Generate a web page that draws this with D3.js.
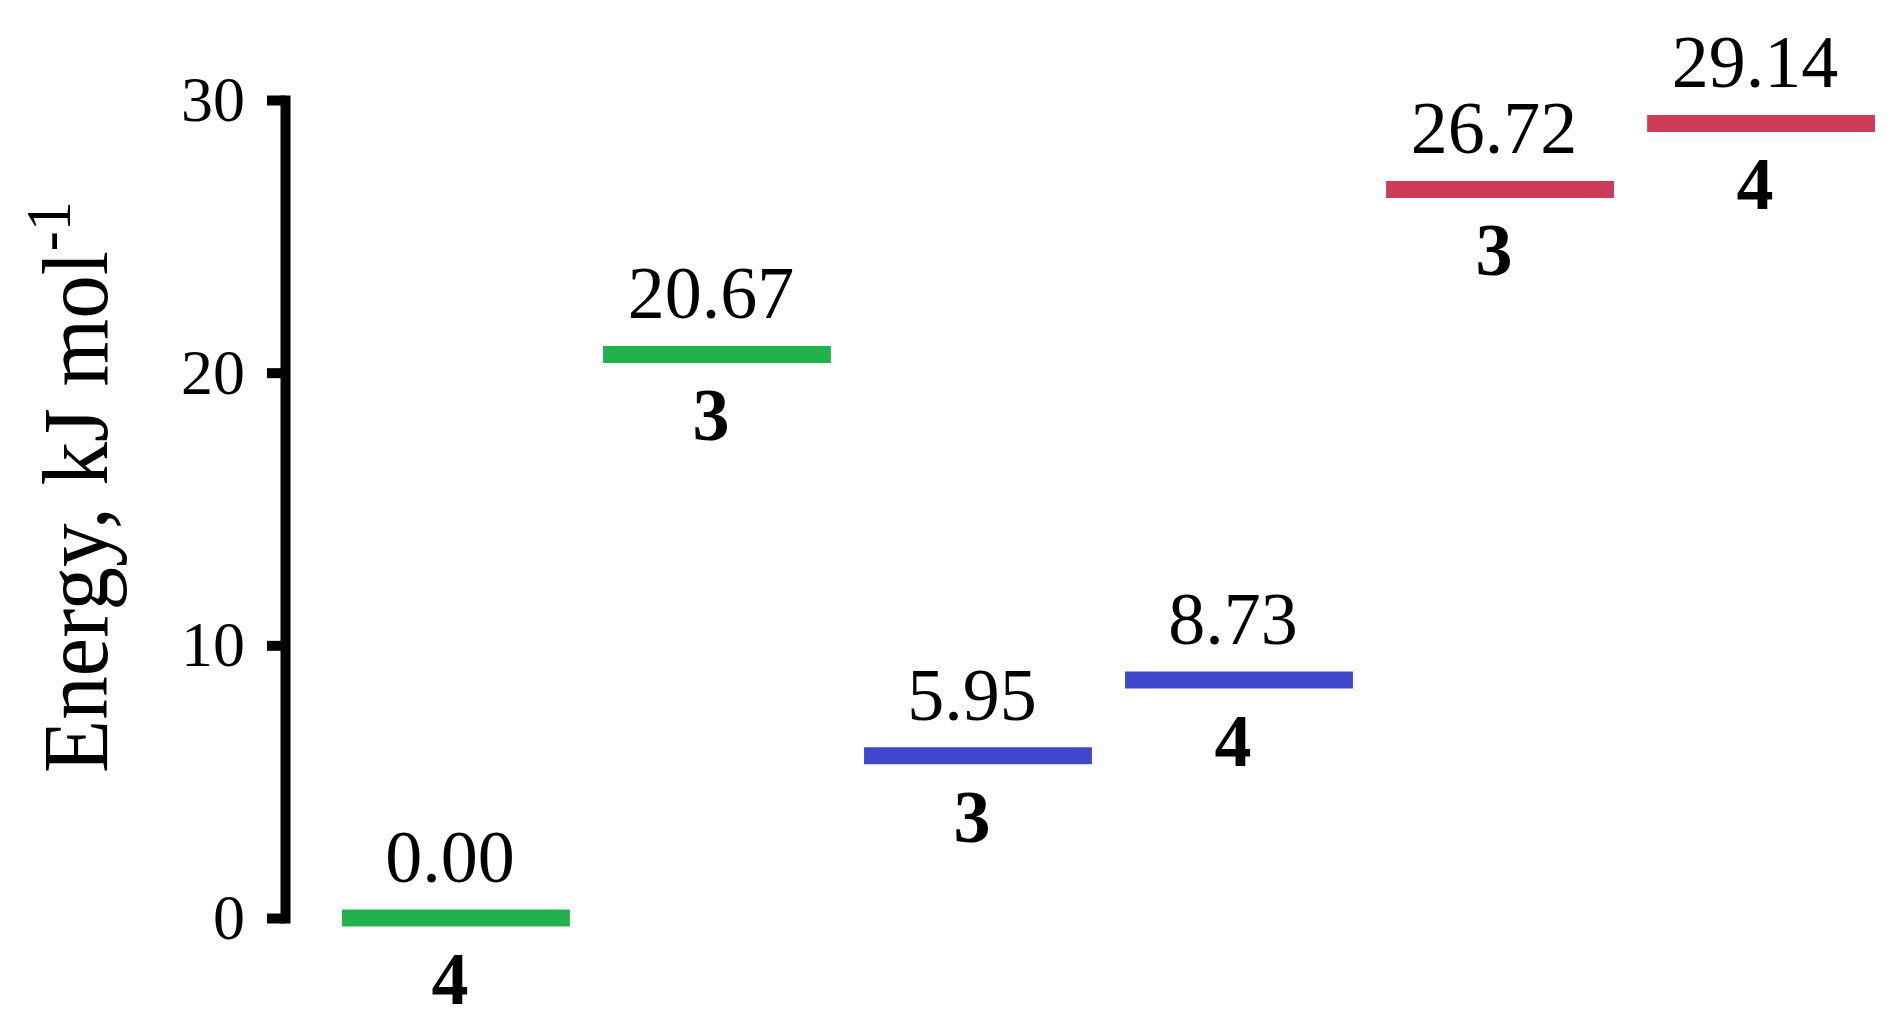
<!DOCTYPE html>
<html>
<head>
<meta charset="utf-8">
<script src="https://cdn.jsdelivr.net/npm/d3@7/dist/d3.min.js"></script>
<style>
  html, body { margin: 0; padding: 0; background: #ffffff; }
  svg { display: block; }
  text { font-family: "Liberation Serif", "Times New Roman", serif; fill: #000; }
</style>
</head>
<body>
<svg id="chart" width="1893" height="1031"></svg>
<script>
// ---- data ----
const levelIds    = ["g1", "g2", "b1", "b2", "r1", "r2"];
const energies    = [0.00, 20.67, 5.95, 8.73, 26.72, 29.14];
const valueLabels = ["0.00", "20.67", "5.95", "8.73", "26.72", "29.14"];
const stateLabels = ["4", "3", "3", "4", "3", "4"];
const seriesOf    = ["green", "green", "blue", "blue", "red", "red"];
const yTicks      = [0, 10, 20, 30];
const yTitle      = "Energy, kJ mol";
const yTitleSup   = "-1";

// ---- styles ----
const colorMap = { green: "#22B14C", blue: "#3F48CC", red: "#CC3C58" };

const svg = d3.select("#chart");

const y = d3.scaleLinear().domain([0, 30]).range([918, 100]);
const x = d3.scaleBand().domain(levelIds).range([342, 1875]).paddingInner(0.127).paddingOuter(0);

// ---- axis ----
const axisG = svg.append("g").attr("transform", "translate(285,0)");
axisG.call(d3.axisLeft(y).tickValues(yTicks).tickSize(18).tickSizeOuter(0).tickPadding(22).tickFormat(d3.format("d")));
axisG.select(".domain").attr("stroke", "#000").attr("stroke-width", 10).attr("stroke-linecap", "square");
axisG.selectAll(".tick line").attr("stroke", "#000").attr("stroke-width", 10);
axisG.selectAll(".tick text")
  .attr("font-family", "Liberation Serif, Times New Roman, serif")
  .attr("font-size", 64)
  .attr("fill", "#000");

// ---- y title ----
const title = svg.append("text")
  .attr("transform", "translate(107,773) rotate(-90) scale(1,1.06)")
  .attr("font-size", 87)
  .attr("text-anchor", "start");
title.append("tspan").text(yTitle);
title.append("tspan").attr("font-size", 60).attr("dy", -35).text(yTitleSup);

// ---- levels ----
const data = levelIds.map((id, i) => ({
  id, e: energies[i], v: valueLabels[i], s: stateLabels[i], c: seriesOf[i]
}));

const g = svg.append("g");
g.selectAll("line.level").data(data).join("line")
  .attr("class", "level")
  .attr("x1", d => x(d.id))
  .attr("x2", d => x(d.id) + x.bandwidth())
  .attr("y1", d => y(d.e))
  .attr("y2", d => y(d.e))
  .attr("stroke", d => colorMap[d.c])
  .attr("stroke-width", 17);

g.selectAll("text.val").data(data).join("text")
  .attr("class", "val")
  .attr("x", d => x(d.id) + x.bandwidth() / 2 - 6)
  .attr("y", d => y(d.e) - 36)
  .attr("text-anchor", "middle")
  .attr("font-size", 74)
  .text(d => d.v);

g.selectAll("text.state").data(data).join("text")
  .attr("class", "state")
  .attr("x", d => x(d.id) + x.bandwidth() / 2 - 6)
  .attr("y", d => y(d.e) + 86)
  .attr("text-anchor", "middle")
  .attr("font-size", 74)
  .attr("font-weight", "bold")
  .text(d => d.s);
</script>
</body>
</html>
